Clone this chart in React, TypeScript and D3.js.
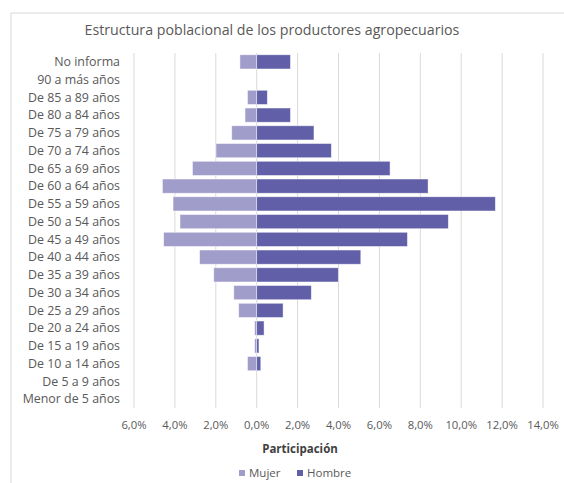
import React from "react";
import * as d3 from "d3";

const categories = [
  "No informa", "90 a más años", "De 85 a 89 años", "De 80 a 84 años", "De 75 a 79 años",
  "De 70 a 74 años", "De 65 a 69 años", "De 60 a 64 años", "De 55 a 59 años", "De 50 a 54 años",
  "De 45 a 49 años", "De 40 a 44 años", "De 35 a 39 años", "De 30 a 34 años", "De 25 a 29 años",
  "De 20 a 24 años", "De 15 a 19 años", "De 10 a 14 años", "De 5 a 9 años", "Menor de 5 años",
];
const mujer = [0.82, 0, 0.45, 0.57, 1.22, 1.99, 3.14, 4.61, 4.09, 3.75, 4.55, 2.79, 2.1, 1.12, 0.88, 0.1, 0.1, 0.45, 0, 0];
const hombre = [1.65, 0, 0.52, 1.65, 2.8, 3.65, 6.52, 8.38, 11.67, 9.37, 7.37, 5.09, 3.99, 2.67, 1.29, 0.36, 0.11, 0.2, 0, 0];
const ticks = [-6, -4, -2, 0, 2, 4, 6, 8, 10, 12, 14];
const series = ["Mujer", "Hombre"];
const colors = ["#a09dca", "#605fa8"];

const FONT = "'Open Sans', 'Noto Sans', sans-serif";

export default function App() {
  const W = 564, H = 483;
  const x = d3.scaleLinear().domain([-6, 14]).range([134, 543]);
  const y = d3.scaleBand().domain(categories).range([53, 408]).paddingInner(0.2).paddingOuter(0.1);
  const fmt = (v: number) => Math.abs(v).toFixed(1).replace(".", ",") + "%";
  return (
    <svg width={W} height={H} style={{ position: "absolute", left: 0, top: 0 }} fontFamily={FONT}>
      <rect width={W} height={H} fill="#fff" />
      <line x1={11} x2={W} y1={13} y2={13} stroke="#d9d9d9" />
      <line x1={11} x2={11} y1={13} y2={H} stroke="#d9d9d9" />
      <text x={272} y={35} textAnchor="middle" fontSize={14.2} fill="#595959">
        Estructura poblacional de los productores agropecuarios
      </text>
      {ticks.map((t) => (
        <g key={t}>
          <line x1={x(t)} x2={x(t)} y1={53} y2={408} stroke="#d9d9d9" strokeWidth={1} />
          <text x={x(t)} y={429} textAnchor="middle" fontSize={11.3} fill="#595959">{fmt(t)}</text>
        </g>
      ))}
      {categories.map((c, i) => (
        <g key={c}>
          {mujer[i] > 0 && (
            <rect x={x(-mujer[i])} y={y(c)} width={x(0) - x(-mujer[i])} height={y.bandwidth()}
              fill={colors[0]} stroke="#ffffff" strokeOpacity={0.6} strokeWidth={0.75} />
          )}
          {hombre[i] > 0 && (
            <rect x={x(0)} y={y(c)} width={x(hombre[i]) - x(0)} height={y.bandwidth()}
              fill={colors[1]} stroke="#ffffff" strokeOpacity={0.6} strokeWidth={0.75} />
          )}
          <text x={120} y={(y(c) as number) + y.bandwidth() / 2} dy="0.35em" textAnchor="end" fontSize={12.4} fill="#595959">{c}</text>
        </g>
      ))}
      <text x={300} y={453} textAnchor="middle" fontSize={11.5} fontWeight="bold" fill="#404040">Participación</text>
      <g>
        <rect x={239} y={470} width={6} height={6} fill={colors[0]} />
        <text x={249} y={477} fontSize={11.5} fill="#595959">{series[0]}</text>
        <rect x={297} y={470} width={6} height={6} fill={colors[1]} />
        <text x={307} y={477} fontSize={11.5} fill="#595959">{series[1]}</text>
      </g>
    </svg>
  );
}
